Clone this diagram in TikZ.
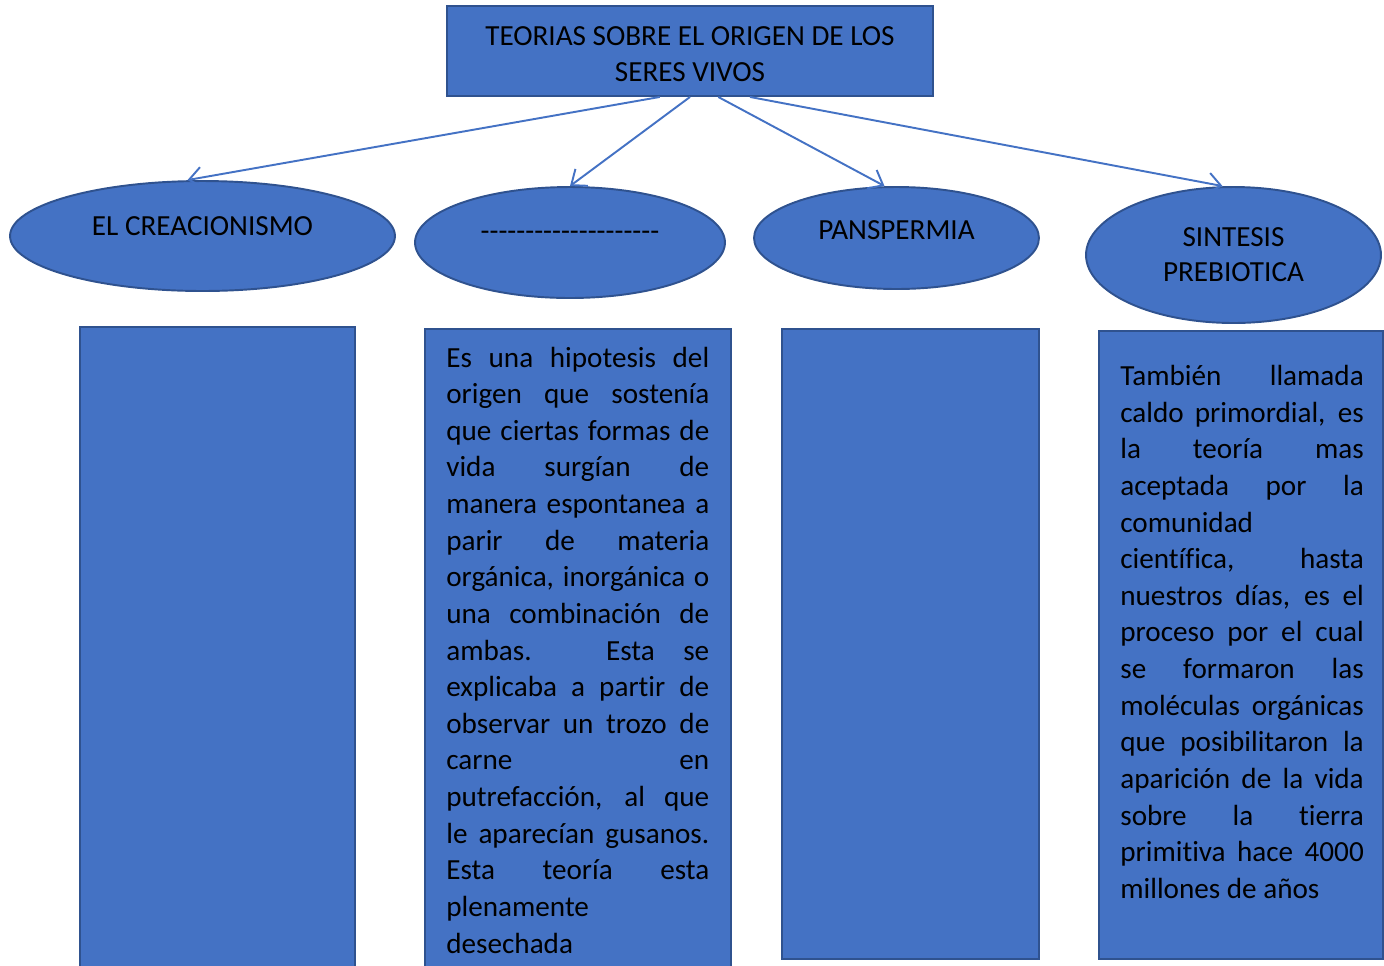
\documentclass[tikz,border=0pt]{standalone}
\usepackage{fontspec}
\setmainfont{Carlito}[Ligatures={TeX,NoCommon}]
\usetikzlibrary{shapes.geometric}
\usetikzlibrary{calc}
\usetikzlibrary{arrows.meta}
\definecolor{boxblue}{HTML}{4472C4}
\definecolor{edgeblue}{HTML}{2F528F}
\setlength{\parindent}{0pt}
\tolerance=10000
\hbadness=10000

\begin{document}
\begin{tikzpicture}[x=0.02cm, y=-0.02cm]
        % Define styles for shapes
        \tikzstyle{titlebox} = [draw=edgeblue, fill=boxblue, line width=1.1pt, minimum width=9.72cm, minimum height=1.8cm, inner sep=0pt, align=center, font=\fontsize{16.6}{20.2}\selectfont]
        \tikzstyle{oval} = [draw=edgeblue, fill=boxblue, line width=1.1pt, ellipse, inner sep=0pt, align=center, font=\fontsize{16.6}{19.8}\selectfont]
        \tikzstyle{column} = [draw=edgeblue, fill=boxblue, line width=1.1pt, inner sep=0pt]
        \tikzstyle{bodytext} = [anchor=north west, inner sep=0pt, align=justify, font=\fontsize{16.6}{20.85}\selectfont]
        \tikzstyle{link} = [draw=boxblue, line width=1.1pt, -{Straight Barb[length=0.26cm, width=0.42cm]}]

        \useasboundingbox (0,0) rectangle (1384,965);

        % Draw shapes
        \node[titlebox] (title) at (690, 51) {\strut TEORIAS SOBRE EL ORIGEN DE LOS\\SERES VIVOS};

        \node[oval, minimum width=7.7cm, minimum height=2.2cm, text depth=0.4cm] (creac) at (202.5, 236) {EL CREACIONISMO};
        \node[oval, minimum width=6.2cm, minimum height=2.22cm, text depth=0.28cm] (espont) at (570, 242.5) {\foreach \d in {1,...,20}{\hbox{-}}};
        \node[oval, minimum width=5.7cm, minimum height=2.04cm, text depth=0.32cm] (pansp) at (896.5, 238) {PANSPERMIA};
        \node[oval, minimum width=5.9cm, minimum height=2.72cm] (sintesis) at (1233.5, 255) {SINTESIS\\PREBIOTICA};

        % columns under the ovals
        \node[column, minimum width=5.5cm, minimum height=13.26cm] (creaccol) at (217.5, 658.5) {};
        \node[column, minimum width=6.12cm, minimum height=13.22cm] (espontcol) at (578, 659.5) {};
        \node[column, minimum width=5.14cm, minimum height=12.6cm] (panspcol) at (910.5, 644) {};
        \node[column, minimum width=5.68cm, minimum height=12.56cm] (sintesiscol) at (1241, 645) {};

        \node[bodytext, text width=5.26cm] (esponttxt) at (446, 341) {\strut Es una hipotesis del\linebreak
            origen que sostenía\linebreak
            que ciertas formas de\linebreak
            vida surgían de\linebreak
            manera espontanea a\linebreak
            parir de materia\linebreak
            orgánica, inorgánica o\linebreak
            una combinación de\linebreak
            ambas. Esta se\linebreak
            explicaba a partir de\linebreak
            observar un trozo de\linebreak
            carne en\linebreak
            putrefacción, al que\linebreak
            le aparecían gusanos.\linebreak
            Esta teoría esta\linebreak
            plenamente\newline
            desechada};
        \node[bodytext, text width=4.87cm] (sintesistxt) at (1120, 359.5) {\strut También llamada\linebreak
            caldo primordial, es\linebreak
            la teoría mas\linebreak
            aceptada por la\linebreak
            comunidad\newline
            científica, hasta\linebreak
            nuestros días, es el\linebreak
            proceso por el cual\linebreak
            se formaron las\linebreak
            moléculas orgánicas\linebreak
            que posibilitaron la\linebreak
            aparición de la vida\linebreak
            sobre la tierra\linebreak
            primitiva hace 4000\linebreak
            millones de años};

        % Draw arrows
        \draw[link] ($(title.south west)!0.438!(title.south east)$) -- ([xshift=-0.3cm]creac.north);
        \draw[link] (title.south) -- (espont.north);
        \draw[link] ($(title.south west)!0.558!(title.south east)$) -- ([xshift=-0.24cm]pansp.north);
        \draw[link] ($(title.south west)!0.623!(title.south east)$) -- ([xshift=-0.22cm]sintesis.north);
\end{tikzpicture}
\end{document}
